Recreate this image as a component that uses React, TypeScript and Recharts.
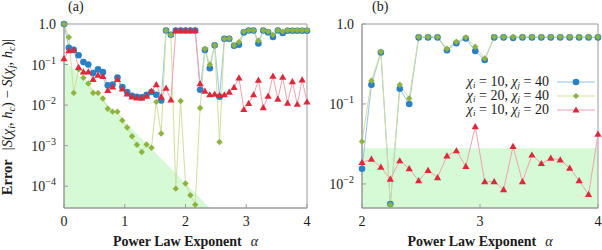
import React from "react";
import { ComposedChart, Line, Area, XAxis, YAxis, Legend, ReferenceArea } from "recharts";

// panel (a): alpha 0..4
const alphaA = [
  0, 0.08, 0.16, 0.24, 0.32, 0.4, 0.48, 0.56, 0.64, 0.72, 0.8, 0.88, 0.96, 1.04, 1.12, 1.2, 1.28,
  1.36, 1.44, 1.52, 1.6, 1.68, 1.76, 1.84, 1.92, 2, 2.08, 2.16, 2.24, 2.32, 2.4, 2.48, 2.56, 2.64,
  2.72, 2.8, 2.88, 2.96, 3.04, 3.12, 3.2, 3.28, 3.36, 3.44, 3.52, 3.6, 3.68, 3.76, 3.84, 3.92, 4,
];
const blueA = [
  1.0, 0.26, 0.23, 0.17, 0.115, 0.1, 0.062, 0.076, 0.065, 0.031, 0.032, 0.048, 0.028, 0.021, 0.017,
  0.016, 0.0155, 0.018, 0.021, 0.018, 0.013, 0.69, 0.54, 0.69, 0.69, 0.69, 0.69, 0.69, 0.024, 0.23,
  0.081, 0.3, 0.016, 0.43, 0.43, 0.29, 0.31, 0.62, 0.69, 0.69, 0.33, 0.69, 0.62, 0.48, 0.69, 0.6,
  0.68, 0.68, 0.68, 0.68, 0.68,
];
const greenA = [
  1.0, 0.47, 0.02, 0.076, 0.047, 0.034, 0.02, 0.02, 0.0145, 0.0081, 0.0069, 0.0069, 0.0042, 0.0028,
  0.0017, 0.00105, 0.0007, 0.00107, 0.00089, 0.012, 0.002, 0.69, 0.54, 0.000087, 0.0126, 0.000117,
  0.00006, 0.000035, 0.0085, 0.245, 0.1, 0.3, 0.00123, 0.43, 0.44, 0.3, 0.36, 0.65, 0.7, 0.7, 0.39,
  0.7, 0.65, 0.54, 0.7, 0.65, 0.7, 0.7, 0.7, 0.7, 0.7,
];
const redA = [
  0.14, 0.22, 0.23, 0.085, 0.066, 0.066, 0.043, 0.055, 0.051, 0.023, 0.028, 0.043, 0.025, 0.019,
  0.016, 0.015, 0.015, 0.0166, 0.022, 0.032, 0.016, 0.026, 0.0135, 0.69, 0.69, 0.69, 0.69, 0.69,
  0.034, 0.022, 0.018, 0.0186, 0.0174, 0.018, 0.021, 0.0275, 0.047, 0.0078, 0.011, 0.018, 0.041,
  0.0087, 0.0166, 0.052, 0.014, 0.049, 0.0112, 0.038, 0.0105, 0.042, 0.012,
];
const shadeAlphaA = [0, 2.4];
const shadeA = [0.13, 0.000029];

// panel (b): alpha 2..4
const alphaB = [
  2, 2.08, 2.16, 2.24, 2.32, 2.4, 2.48, 2.56, 2.64, 2.72, 2.8, 2.88, 2.96, 3.04, 3.12, 3.2, 3.28,
  3.36, 3.44, 3.52, 3.6, 3.68, 3.76, 3.84, 3.92, 4,
];
const blueB = [
  0.0155, 0.174, 0.44, 0.0056, 0.155, 0.1, 0.68, 0.68, 0.68, 0.47, 0.575, 0.66, 0.46, 0.355, 0.68,
  0.68, 0.67, 0.68, 0.68, 0.68, 0.68, 0.68, 0.68, 0.68, 0.68, 0.68,
];
const greenB = [
  0.034, 0.195, 0.45, 0.0055, 0.174, 0.117, 0.69, 0.69, 0.69, 0.49, 0.6, 0.68, 0.52, 0.37, 0.69,
  0.69, 0.69, 0.69, 0.69, 0.69, 0.69, 0.69, 0.69, 0.69, 0.69, 0.69,
];
const redB = [
  0.0186, 0.0204, 0.0162, 0.0115, 0.0195, 0.0155, 0.011, 0.0148, 0.012, 0.0224, 0.026, 0.0166,
  0.052, 0.0107, 0.0107, 0.0085, 0.0295, 0.0107, 0.023, 0.018, 0.021, 0.02, 0.0158, 0.011, 0.0074,
  0.042,
];
const shadeAlphaB = [2, 4];
const shadeB = [0.028, 0.028];

const FRAME = "#9a9a9a";
const INK = "#1a1a1a";
const SERIF = "'Liberation Serif', 'DejaVu Serif', serif";
const BLUE = "#2b80c5";
const BLUE_LINE = "#94c4e8";
const GREEN = "#8db43e";
const GREEN_LINE = "#cfe09e";
const RED = "#e0283a";
const RED_LINE = "#f2a2a9";
const SHADE = "#d6f9d6";

const blueDot = (p: any) => <circle key={`b${p.index}`} cx={p.cx} cy={p.cy} r={3.3} fill={BLUE} />;
const greenDot = (p: any) => (
  <path
    key={`g${p.index}`}
    d={`M${p.cx},${p.cy - 3.2}L${p.cx + 3.2},${p.cy}L${p.cx},${p.cy + 3.2}L${p.cx - 3.2},${p.cy}Z`}
    fill={GREEN}
  />
);
const redDot = (p: any) => (
  <path
    key={`r${p.index}`}
    d={`M${p.cx},${p.cy - 3.6}L${p.cx + 3.6},${p.cy + 2.6}L${p.cx - 3.6},${p.cy + 2.6}Z`}
    fill={RED}
  />
);

function BottomTick({ x, y, payload }: any) {
  return (
    <g>
      <line x1={x} x2={x} y1={y} y2={y - 4} stroke={FRAME} />
      <text x={x} y={y + 18} textAnchor="middle" fontFamily={SERIF} fontSize={14} fill={INK}>
        {payload.value}
      </text>
    </g>
  );
}
function TopTick({ x, y }: any) {
  return <line x1={x} x2={x} y1={y} y2={y + 4} stroke={FRAME} />;
}
function RightTick({ x, y }: any) {
  return <line x1={x} x2={x - 4} y1={y} y2={y} stroke={FRAME} />;
}
function LeftTick({ x, y, payload }: any) {
  const e = Math.round(Math.log10(payload.value));
  return (
    <g>
      <line x1={x} x2={x + 4} y1={y} y2={y} stroke={FRAME} />
      <text x={x - 8} y={y + 5} textAnchor="end" fontFamily={SERIF} fontSize={14} fill={INK}>
        {e === 0 ? (
          "1.0"
        ) : (
          <>
            10
            <tspan dy={-6} fontSize={10}>
              {"\u2212" + -e}
            </tspan>
          </>
        )}
      </text>
    </g>
  );
}

function XTitle({ viewBox }: any) {
  const cx = viewBox.x + viewBox.width / 2;
  return (
    <text x={cx} y={viewBox.y + 38} textAnchor="middle" fontFamily={SERIF} fontSize={14} fill={INK}>
      <tspan fontWeight="bold">Power Law Exponent</tspan>
      <tspan dx={9} fontStyle="italic" fontSize={14}>
        α
      </tspan>
    </text>
  );
}

function YTitle({ viewBox }: any) {
  const cx = 12;
  const cy = viewBox.y + viewBox.height / 2 + 1;
  const sub = (t: string) => (
    <tspan dy={3} fontSize={10} fontStyle="italic">
      {t}
    </tspan>
  );
  return (
    <text
      x={cx}
      y={cy}
      transform={`rotate(-90 ${cx} ${cy})`}
      textAnchor="middle"
      fontFamily={SERIF}
      fontSize={14.5}
      fill={INK}
    >
      <tspan fontWeight="bold">Error</tspan>
      <tspan dx={9}>|</tspan>
      <tspan fontStyle="italic">S</tspan>
      <tspan>(</tspan>
      <tspan fontStyle="italic">χ</tspan>
      {sub("i")}
      <tspan dy={-3}>, </tspan>
      <tspan fontStyle="italic">h</tspan>
      {sub("c")}
      <tspan dy={-3}>)  −  </tspan>
      <tspan fontStyle="italic">S</tspan>
      <tspan>(</tspan>
      <tspan fontStyle="italic">χ</tspan>
      {sub("j")}
      <tspan dy={-3}>, </tspan>
      <tspan fontStyle="italic">h</tspan>
      {sub("c")}
      <tspan dy={-3}>)|</tspan>
    </text>
  );
}

const legendRows = [
  { i: "10", j: "40", color: BLUE, line: BLUE_LINE, kind: "circle" },
  { i: "20", j: "40", color: GREEN, line: GREEN_LINE, kind: "diamond" },
  { i: "10", j: "20", color: RED, line: RED_LINE, kind: "triangle" },
];

const subStyle: React.CSSProperties = {
  fontSize: 9,
  fontStyle: "italic",
  verticalAlign: "-2px",
  lineHeight: "9px",
};

function LegendBox() {
  return (
    <div style={{ fontFamily: SERIF, fontSize: 14, color: INK, lineHeight: "14px" }}>
      {legendRows.map((r) => (
        <div
          key={r.kind}
          style={{ display: "flex", justifyContent: "flex-end", alignItems: "center", height: 14 }}
        >
          <span style={{ whiteSpace: "nowrap", lineHeight: "14px", height: 14 }}>
            <i>χ</i>
            <span style={subStyle}>i</span> = {r.i}, <i>χ</i>
            <span style={subStyle}>j</span> = {r.j}
          </span>
          <svg width={38} height={14} style={{ marginLeft: 8, flex: "none" }}>
            <line x1={0} x2={38} y1={7} y2={7} stroke={r.line} strokeWidth={1.2} />
            {r.kind === "circle" && <circle cx={19} cy={7} r={3.3} fill={r.color} />}
            {r.kind === "diamond" && <path d="M19,4L22,7L19,10L16,7Z" fill={r.color} />}
            {r.kind === "triangle" && <path d="M19,3.5L22.5,9.5L15.5,9.5Z" fill={r.color} />}
          </svg>
        </div>
      ))}
    </div>
  );
}

function Panel(props: {
  alpha: number[];
  blue: number[];
  green: number[];
  red: number[];
  shadeAlpha: number[];
  shade: number[];
  xDomain: [number, number];
  xTicks: number[];
  topTicks: number[];
  yDomain: [number, number];
  yTicks: number[];
  width: number;
  yAxisWidth: number;
  marginRight: number;
  showYTitle: boolean;
  showLegend: boolean;
}) {
  const rows = props.alpha.map((a, i) => ({
    a,
    blue: props.blue[i],
    green: props.green[i],
    red: props.red[i],
  }));
  const shadeRows = props.shadeAlpha.map((a, i) => ({ a, shade: props.shade[i] }));
  return (
    <ComposedChart
      width={props.width}
      height={250}
      data={rows}
      margin={{ top: 24, right: props.marginRight, bottom: 0, left: 0 }}
    >
      <XAxis
        dataKey="a"
        type="number"
        domain={props.xDomain}
        ticks={props.xTicks}
        interval={0}
        height={42}
        tickSize={0}
        tickMargin={0}
        stroke={FRAME}
        tick={<BottomTick />}
        label={{ content: (p: any) => <XTitle {...p} /> }}
      />
      <XAxis
        xAxisId="top"
        orientation="top"
        dataKey="a"
        type="number"
        domain={props.xDomain}
        ticks={props.topTicks}
        interval={0}
        height={0}
        tickSize={0}
        tickMargin={0}
        stroke={FRAME}
        tick={<TopTick />}
      />
      <YAxis
        type="number"
        scale="log"
        domain={props.yDomain}
        ticks={props.yTicks}
        interval={0}
        width={props.yAxisWidth}
        tickSize={0}
        tickMargin={0}
        stroke={FRAME}
        tick={<LeftTick />}
        label={props.showYTitle ? { content: (p: any) => <YTitle {...p} /> } : undefined}
      />
      <YAxis
        yAxisId="right"
        orientation="right"
        type="number"
        scale="log"
        domain={props.yDomain}
        ticks={props.yTicks}
        interval={0}
        width={0}
        tickSize={0}
        tickMargin={0}
        stroke={FRAME}
        tick={<RightTick />}
      />
      <Area
        data={shadeRows}
        dataKey="shade"
        type="linear"
        stroke="none"
        fill={SHADE}
        fillOpacity={1}
        isAnimationActive={false}
      />
      <ReferenceArea
        x1={props.xDomain[0]}
        x2={props.xDomain[1]}
        y1={props.yDomain[0]}
        y2={props.yDomain[1]}
        fill="none"
        stroke={FRAME}
        strokeWidth={1}
      />
      <Line dataKey="blue" type="linear" stroke={BLUE_LINE} strokeWidth={1} dot={blueDot} isAnimationActive={false} />
      <Line dataKey="green" type="linear" stroke={GREEN_LINE} strokeWidth={1} dot={greenDot} isAnimationActive={false} />
      <Line dataKey="red" type="linear" stroke={RED_LINE} strokeWidth={1} dot={redDot} isAnimationActive={false} />
      {props.showLegend && (
        <Legend
          layout="vertical"
          align="center"
          verticalAlign="middle"
          content={() => <LegendBox />}
          wrapperStyle={{ left: 95, top: 75, width: 200 }}
        />
      )}
    </ComposedChart>
  );
}

export default function App() {
  return (
    <div style={{ position: "absolute", left: 0, top: 0, width: 602, height: 250, background: "#fff" }}>
      <div style={{ position: "absolute", left: 0, top: 0 }}>
        <Panel
          alpha={alphaA}
          blue={blueA}
          green={greenA}
          red={redA}
          shadeAlpha={shadeAlphaA}
          shade={shadeA}
          xDomain={[0, 4]}
          xTicks={[0, 1, 2, 3, 4]}
          topTicks={[1, 2, 3]}
          yDomain={[0.000029, 1]}
          yTicks={[0.0001, 0.001, 0.01, 0.1, 1]}
          width={315}
          yAxisWidth={64}
          marginRight={8}
          showYTitle
          showLegend={false}
        />
      </div>
      <div style={{ position: "absolute", left: 300, top: 0 }}>
        <Panel
          alpha={alphaB}
          blue={blueB}
          green={greenB}
          red={redB}
          shadeAlpha={shadeAlphaB}
          shade={shadeB}
          xDomain={[2, 4]}
          xTicks={[2, 3, 4]}
          topTicks={[3]}
          yDomain={[0.005, 1]}
          yTicks={[0.01, 0.1, 1]}
          width={302}
          yAxisWidth={62}
          marginRight={4}
          showYTitle={false}
          showLegend
        />
      </div>
      <div style={{ position: "absolute", left: 68, top: -1, fontFamily: SERIF, fontSize: 14, color: INK }}>(a)</div>
      <div style={{ position: "absolute", left: 372, top: -1, fontFamily: SERIF, fontSize: 14, color: INK }}>(b)</div>
    </div>
  );
}
